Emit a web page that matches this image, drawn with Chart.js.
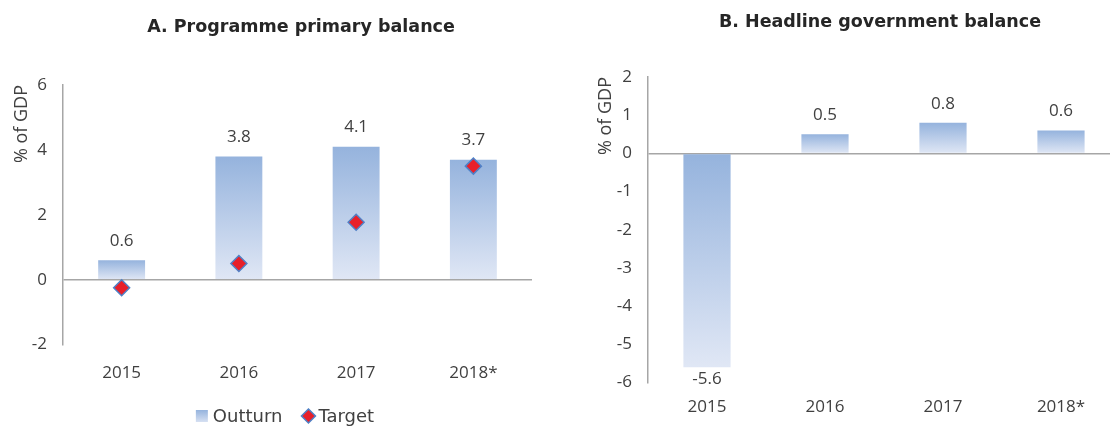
<!DOCTYPE html>
<html>
<head>
<meta charset="utf-8">
<script src="https://cdn.jsdelivr.net/npm/chart.js@4.4.1/dist/chart.umd.min.js"></script>
<style>
  html, body { margin: 0; padding: 0; background: #fff; overflow: hidden; }
  #wrap { position: relative; width: 1110px; height: 428px; overflow: hidden; }
  #boxA { position: absolute; left: 0; top: 0; width: 575px; height: 428px; }
  #boxB { position: absolute; left: 555px; top: 0; width: 575px; height: 428px; }
</style>
</head>
<body>
<div id="wrap">
  <div id="boxA"><canvas id="chartA"></canvas></div>
  <div id="boxB"><canvas id="chartB"></canvas></div>
</div>
<script>
// data
var years = ['2015', '2016', '2017', '2018*'];
var outturnA = [0.6, 3.8, 4.1, 3.7];
var targetA = [-0.25, 0.5, 1.77, 3.5];
var headlineB = [-5.6, 0.5, 0.8, 0.6];
var ticksA = [-2, 0, 2, 4, 6];
var ticksB = [-6, -5, -4, -3, -2, -1, 0, 1, 2];

var textColor = '#404040';
var axisColor = '#a6a6a6';
var barColor = '#a9bfe4';
var targetFill = '#e8202a';
var targetEdge = '#4f81c7';
var tickFont = { family: 'Open Sans', size: 17 };

// gradient runs from the bar's upper end (dark) to its lower end (light)
function barGradient(ctx) {
    var chart = ctx.chart;
    if (!chart.chartArea || ctx.type !== 'data') return barColor;
    var v = ctx.raw;
    var y = chart.scales.y;
    var top = y.getPixelForValue(Math.max(v, 0));
    var bottom = y.getPixelForValue(Math.min(v, 0));
    if (bottom - top < 1) bottom = top + 1;
    var g = chart.ctx.createLinearGradient(0, top, 0, bottom);
    g.addColorStop(0, '#95b3dd');
    g.addColorStop(1, '#e0e7f5');
    return g;
}

var valueLabels = {
    id: 'valueLabels',
    afterDatasetsDraw: function(chart, args, opts) {
        var c = chart.ctx;
        var meta = chart.getDatasetMeta(0);
        var data = chart.data.datasets[0].data;
        c.save();
        c.font = '17px "Open Sans"';
        c.fillStyle = textColor;
        c.textAlign = 'center';
        c.textBaseline = 'middle';
        meta.data.forEach(function(bar, i) {
            var v = data[i];
            var y = v >= 0 ? bar.y - opts.above : bar.y + opts.below;
            c.fillText(v.toFixed(1), bar.x, y);
        });
        c.restore();
    }
};

// panel heading, centred on the panel rather than the canvas
var panelTitle = {
    id: 'panelTitle',
    afterDraw: function(chart, args, opts) {
        var c = chart.ctx;
        c.save();
        c.font = 'bold 17.5px "DejaVu Sans"';
        c.fillStyle = '#262626';
        c.textAlign = 'center';
        c.textBaseline = 'middle';
        c.fillText(opts.text, opts.cx, opts.cy);
        c.restore();
    }
};

// legend for panel A, drawn below the axis labels
var bottomLegend = {
    id: 'bottomLegend',
    afterDraw: function(chart, args, opts) {
        if (!opts.show) return;
        var c = chart.ctx;
        c.save();
        c.font = '18px "DejaVu Sans"';
        c.textBaseline = 'middle';
        c.textAlign = 'left';
        var w1 = c.measureText('Outturn').width;
        var w2 = c.measureText('Target').width;
        var total = 12 + 5 + w1 + 19 + 14 + 3 + w2;
        var x = opts.cx - total / 2;
        var y = opts.cy;
        var g = c.createLinearGradient(0, y - 6, 0, y + 6);
        g.addColorStop(0, '#95b3dd');
        g.addColorStop(1, '#d6e0f2');
        c.fillStyle = g;
        c.fillRect(x, y - 6, 12, 12);
        x += 17;
        c.fillStyle = textColor;
        c.fillText('Outturn', x, y + 1);
        x += w1 + 19 + 7;
        c.beginPath();
        c.moveTo(x, y - 7);
        c.lineTo(x + 7, y);
        c.lineTo(x, y + 7);
        c.lineTo(x - 7, y);
        c.closePath();
        c.fillStyle = targetFill;
        c.fill();
        c.lineWidth = 1.5;
        c.strokeStyle = targetEdge;
        c.stroke();
        x += 10;
        c.fillStyle = textColor;
        c.fillText('Target', x, y + 1);
        c.restore();
    }
};

function yScale(min, max, step, tickList, titlePad) {
    return {
        min: min,
        max: max,
        afterBuildTicks: function(scale) {
            scale.ticks = tickList.map(function(t) { return { value: t }; });
        },
        ticks: { color: textColor, font: tickFont, padding: 16, stepSize: step },
        grid: {
            drawTicks: false,
            lineWidth: 1.5,
            color: function(ctx) { return ctx.tick && ctx.tick.value === 0 ? axisColor : 'rgba(0,0,0,0)'; }
        },
        border: { display: true, color: axisColor, width: 1.5 },
        title: {
            display: true,
            text: '% of GDP',
            align: 'end',
            color: textColor,
            font: { family: 'Open Sans', size: 18 },
            padding: { top: titlePad, bottom: 0 }
        }
    };
}

function xScale(pad) {
    return {
        grid: { display: false },
        border: { display: false },
        ticks: { color: textColor, font: tickFont, padding: pad }
    };
}

var chartA = new Chart(document.getElementById('chartA'), {
    data: {
        labels: years,
        datasets: [{
            type: 'bar',
            label: 'Outturn',
            data: outturnA,
            backgroundColor: barGradient,
            categoryPercentage: 1,
            barPercentage: 0.4,
            order: 2
        }, {
            type: 'line',
            label: 'Target',
            data: targetA,
            showLine: false,
            pointStyle: 'rectRot',
            pointRadius: 8,
            pointHoverRadius: 8,
            backgroundColor: targetFill,
            borderColor: targetEdge,
            borderWidth: 1.5,
            order: 1
        }]
    },
    options: {
        responsive: true,
        maintainAspectRatio: false,
        animation: false,
        layout: { padding: { left: 0, right: 43, top: 85, bottom: 35 } },
        scales: {
            x: xScale(10),
            y: Object.assign(yScale(-2, 6, 2, ticksA, 11), {
                afterFit: function(s) { s.width = 63; }
            })
        },
        plugins: {
            title: { display: false },
            legend: { display: false },
            tooltip: { enabled: false },
            valueLabels: { above: 19, below: 12 },
            panelTitle: { text: 'A. Programme primary balance', cx: 301, cy: 27 },
            bottomLegend: { show: true, cx: 285, cy: 416 }
        }
    },
    plugins: [valueLabels, panelTitle, bottomLegend]
});

var chartB = new Chart(document.getElementById('chartB'), {
    type: 'bar',
    data: {
        labels: years,
        datasets: [{
            label: 'Headline balance',
            data: headlineB,
            backgroundColor: barGradient,
            categoryPercentage: 1,
            barPercentage: 0.4
        }]
    },
    options: {
        responsive: true,
        maintainAspectRatio: false,
        animation: false,
        layout: { padding: { left: 0, right: 10, top: 77, bottom: 5 } },
        scales: {
            x: xScale(6),
            y: Object.assign(yScale(-6, 2, 1, ticksB, 40), {
                afterFit: function(s) { s.width = 93; }
            })
        },
        plugins: {
            title: { display: false },
            legend: { display: false },
            tooltip: { enabled: false },
            valueLabels: { above: 19, below: 12 },
            panelTitle: { text: 'B. Headline government balance', cx: 325, cy: 22 },
            bottomLegend: { show: false }
        }
    },
    plugins: [valueLabels, panelTitle, bottomLegend]
});
</script>
</body>
</html>
